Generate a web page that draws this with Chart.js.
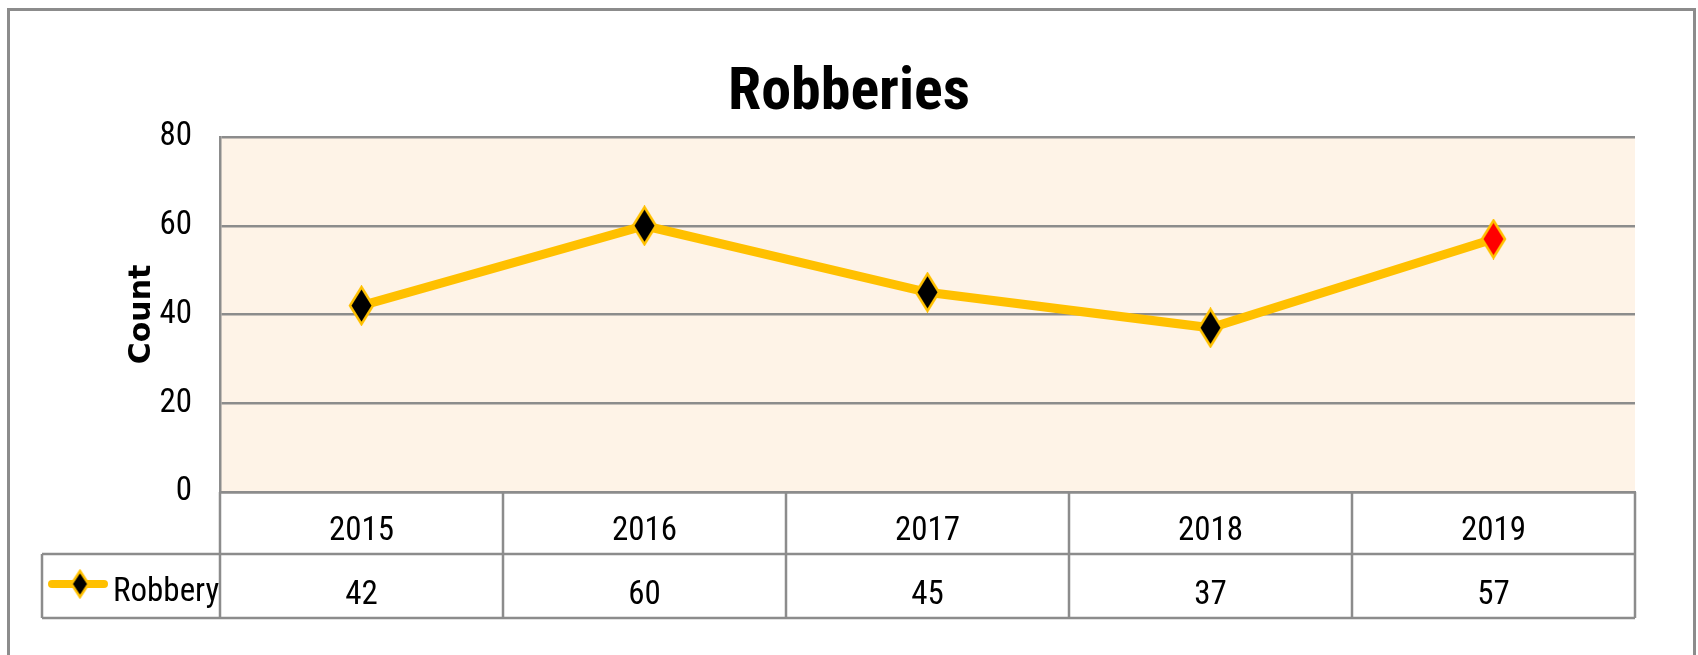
<!DOCTYPE html>
<html>
<head>
<meta charset="utf-8">
<script src="https://cdn.jsdelivr.net/npm/chart.js@4/dist/chart.umd.min.js"></script>
<style>
    html, body { margin: 0; padding: 0; background: #fff; }
    #wrap { width: 1698px; height: 655px; position: relative; }
</style>
</head>
<body>
<div id="wrap"><canvas id="chart"></canvas></div>
<script>
(function() {
    'use strict';

    // Chart data
    const years = ['2015', '2016', '2017', '2018', '2019'];
    const robbery = [42, 60, 45, 37, 57];
    const yTicks = [0, 20, 40, 60, 80];
    const seriesName = 'Robbery';

    const colors = {
        line: '#FFC000',
        marker: '#000000',
        highlight: '#FF0000',
        grid: '#8c8c8c',
        plotBg: '#FEF3E7',
        text: '#000000'
    };
    const fontFamily = "'Roboto Condensed', Carlito, 'Liberation Sans', sans-serif";

    // Tall diamond marker drawn into a small canvas
    function makeDiamond(w, h, fill) {
        const c = document.createElement('canvas');
        c.width = w + 4;
        c.height = h + 4;
        const g = c.getContext('2d');
        const cx = c.width / 2, cy = c.height / 2;
        g.beginPath();
        g.moveTo(cx, cy - h / 2);
        g.lineTo(cx + w / 2, cy);
        g.lineTo(cx, cy + h / 2);
        g.lineTo(cx - w / 2, cy);
        g.closePath();
        g.fillStyle = fill;
        g.fill();
        g.lineWidth = 2.5;
        g.strokeStyle = colors.line;
        g.stroke();
        return c;
    }

    const blackDiamond = makeDiamond(23, 37, colors.marker);
    const redDiamond = makeDiamond(23, 37, colors.highlight);
    const legendDiamond = makeDiamond(17, 26, colors.marker);

    // Outer frame + peach plot background
    const backgroundPlugin = {
        id: 'background',
        beforeDraw(chart) {
            const { ctx, chartArea } = chart;
            ctx.save();
            ctx.fillStyle = colors.plotBg;
            ctx.fillRect(chartArea.left, chartArea.top,
                chartArea.right - chartArea.left, chartArea.bottom - chartArea.top);
            ctx.strokeStyle = colors.grid;
            ctx.lineWidth = 3;
            ctx.strokeRect(8.5, 9.5, 1686, 700);
            ctx.restore();
        }
    };

    // Data table under the plot (years row comes from the x axis ticks)
    const dataTablePlugin = {
        id: 'dataTable',
        afterDraw(chart) {
            const { ctx, chartArea } = chart;
            const xScale = chart.scales.x;
            const top = chartArea.bottom;
            const mid = top + 62;
            const bottom = top + 126;
            const legendLeft = 42;
            const half = (xScale.getPixelForTick(1) - xScale.getPixelForTick(0)) / 2;

            ctx.save();
            ctx.strokeStyle = colors.grid;
            ctx.lineWidth = 2.5;
            ctx.beginPath();
            // verticals
            ctx.moveTo(chartArea.left, top);
            ctx.lineTo(chartArea.left, bottom);
            years.forEach((y, i) => {
                const x = xScale.getPixelForTick(i) + half;
                ctx.moveTo(x, top);
                ctx.lineTo(x, bottom);
            });
            ctx.moveTo(legendLeft, mid);
            ctx.lineTo(legendLeft, bottom);
            // horizontals
            ctx.moveTo(legendLeft, mid);
            ctx.lineTo(chartArea.right, mid);
            ctx.moveTo(legendLeft, bottom);
            ctx.lineTo(chartArea.right, bottom);
            ctx.stroke();

            // values row
            ctx.fillStyle = colors.text;
            ctx.font = '33px ' + fontFamily;
            ctx.textAlign = 'center';
            ctx.textBaseline = 'middle';
            robbery.forEach((v, i) => {
                ctx.fillText(String(v), xScale.getPixelForTick(i), mid + 42);
            });

            // legend key
            ctx.strokeStyle = colors.line;
            ctx.lineWidth = 8;
            ctx.lineCap = 'round';
            ctx.beginPath();
            ctx.moveTo(52, mid + 30);
            ctx.lineTo(104, mid + 30);
            ctx.stroke();
            ctx.drawImage(legendDiamond, 80 - legendDiamond.width / 2, mid + 30 - legendDiamond.height / 2);
            ctx.textAlign = 'left';
            ctx.fillText(seriesName, 113, mid + 39);
            ctx.restore();
        }
    };

    new Chart(document.getElementById('chart'), {
        type: 'line',
        data: {
            labels: years,
            datasets: [{
                label: seriesName,
                data: robbery,
                borderColor: colors.line,
                borderWidth: 9,
                tension: 0,
                pointStyle: (ctx) => ctx.dataIndex === years.length - 1 ? redDiamond : blackDiamond,
                pointRadius: 12,
                pointHoverRadius: 12,
                clip: false
            }]
        },
        options: {
            responsive: true,
            maintainAspectRatio: false,
            animation: false,
            layout: { padding: { left: 63, right: 63, top: 0, bottom: 0 } },
            plugins: {
                legend: { display: false },
                tooltip: { enabled: false },
                title: {
                    display: true,
                    text: 'Robberies',
                    color: colors.text,
                    font: { family: fontFamily, size: 60, weight: 'bold', lineHeight: 1.2 },
                    padding: { top: 58, bottom: 7 }
                }
            },
            scales: {
                x: {
                    offset: true,
                    grid: { display: false, drawTicks: false },
                    border: { display: true, color: colors.grid, width: 2.5 },
                    ticks: {
                        color: colors.text,
                        font: { family: fontFamily, size: 33, lineHeight: 1.2 },
                        padding: 20,
                        maxRotation: 0
                    },
                    afterFit(scale) { scale.height = 163; }
                },
                y: {
                    min: 0,
                    max: 80,
                    afterBuildTicks(scale) {
                        scale.ticks = yTicks.map(v => ({ value: v }));
                    },
                    grid: { color: colors.grid, lineWidth: 2.5, drawTicks: false },
                    border: { display: true, color: colors.grid, width: 2.5 },
                    ticks: {
                        color: colors.text,
                        font: { family: fontFamily, size: 33 },
                        padding: 28
                    },
                    title: {
                        display: true,
                        text: 'Count',
                        color: colors.text,
                        font: { family: "'DejaVu Sans', Verdana, sans-serif", size: 30, weight: 'bold', lineHeight: 1.2 },
                        padding: { top: 61, bottom: 0 }
                    },
                    afterFit(scale) { scale.width = 157; }
                }
            }
        },
        plugins: [backgroundPlugin, dataTablePlugin]
    });
})();
</script>
</body>
</html>
